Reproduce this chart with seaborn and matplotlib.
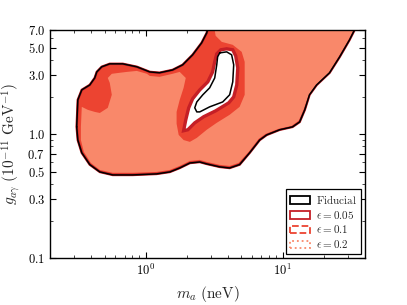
import matplotlib
matplotlib.use("Agg")
import matplotlib.pyplot as plt
import matplotlib.ticker as ticker
from matplotlib.patches import Patch
import pandas as pd
import seaborn as sns

# fiducial exclusion contour (outer edge), m_a in neV, g in 1e-11 GeV^-1
fid_outer_m = [0.313, 0.319, 0.341, 0.390, 0.424, 0.439, 0.477, 0.546, 0.679, 0.860, 1.07, 1.26,
               1.57, 1.86, 2.20, 2.56, 2.79, 2.95, 35.5, 33.5, 30.8, 26.1, 22.0, 17.7, 15.7, 14.5,
               13.3, 11.8, 9.51, 7.64, 6.79, 5.74, 4.85, 4.10, 3.47, 2.79, 2.48, 2.10, 1.77, 1.50,
               1.20, 0.804, 0.574, 0.462, 0.390, 0.341, 0.319]
fid_outer_g = [1.15, 1.90, 2.29, 2.51, 2.86, 3.20, 3.52, 3.72, 3.72, 3.52, 3.20, 3.15,
               3.32, 3.65, 4.40, 5.50, 6.62, 8.5, 8.5, 7.00, 5.82, 4.24, 3.15, 2.51, 2.09, 1.58,
               1.26, 1.15, 1.09, 0.99, 0.90, 0.71, 0.57, 0.535, 0.546, 0.577, 0.598, 0.587, 0.535, 0.497,
               0.479, 0.470, 0.470, 0.497, 0.57, 0.71, 0.90]

# fiducial contour (inner island)
fid_hole_m = [3.47, 3.90, 4.24, 4.39, 4.32, 4.10, 3.65, 2.93, 2.48, 2.36, 2.28, 2.36, 2.61, 2.93,
              3.19, 3.30, 3.35]
fid_hole_g = [4.56, 4.65, 4.40, 3.65, 2.66, 2.09, 1.83, 1.67, 1.52, 1.52, 1.64, 1.83, 2.09, 2.38,
              2.86, 3.65, 4.24]

# eps = 0.2 region
eps02_m = [0.336, 0.336, 0.341, 0.377, 0.424, 0.462, 0.528, 0.565, 0.546, 0.528, 0.565, 0.646,
           0.726, 0.860, 1.02, 1.07, 1.26, 1.57, 1.77, 1.96, 1.89, 1.77, 1.68, 1.68, 1.74, 1.89,
           2.10, 2.36, 2.79, 3.30, 4.10, 4.85, 5.28, 5.28, 5.02, 4.32, 3.59, 3.24, 3.14, 34.1,
           33.0, 30.3, 25.6, 21.7, 17.4, 15.5, 14.2, 13.1, 11.6, 9.35, 7.51, 6.68, 5.65, 4.77,
           4.10, 3.47, 2.79, 2.48, 2.10, 1.77, 1.50, 1.20, 0.804, 0.574, 0.462, 0.397, 0.353]
eps02_g = [0.90, 1.15, 1.67, 1.58, 1.52, 1.49, 1.64, 2.09, 2.61, 2.86, 3.09, 3.15,
           3.20, 3.26, 3.09, 2.97, 2.92, 3.09, 3.20, 2.86, 2.38, 1.90, 1.52, 1.22, 0.99, 0.90,
           0.870, 0.937, 1.09, 1.24, 1.44, 1.67, 2.09, 3.86, 4.65, 5.30, 5.60, 6.27, 7.69, 7.69,
           7.00, 5.82, 4.24, 3.15, 2.51, 2.09, 1.58, 1.29, 1.17, 1.11, 1.01, 0.920, 0.722, 0.588,
           0.556, 0.567, 0.599, 0.622, 0.610, 0.556, 0.516, 0.497, 0.489, 0.489, 0.516, 0.588, 0.722]

# eps = 0.05 island (allowed gap)
eps05_hole_m = [1.89, 1.96, 2.06, 2.20, 2.48, 2.84, 3.08, 3.19, 3.30, 3.53, 3.90, 4.32, 4.54,
                4.70, 4.62, 4.39, 4.04, 3.24, 2.65, 2.28, 2.03]
eps05_hole_g = [1.07, 1.31, 1.64, 1.94, 2.29, 2.66, 3.20, 3.86, 4.48, 4.83, 4.92, 4.83, 4.31,
                3.45, 2.51, 2.01, 1.80, 1.55, 1.39, 1.24, 1.09]

ytick_vals = [0.1, 0.3, 0.5, 0.7, 1.0, 3.0, 5.0, 7.0]
ytick_labels = ["0.1", "0.3", "0.5", "0.7", "1.0", "3.0", "5.0", "7.0"]
yminor_vals = [0.2, 0.4, 0.6, 0.8, 0.9, 2.0, 4.0, 6.0]

c_fid = "black"
c_05 = "#c51f26"
c_01 = "#ec4431"
c_02 = "#f9886a"

sns.set_style("ticks")
plt.rcParams.update({
    "font.family": "serif",
    "mathtext.fontset": "cm",
    "axes.edgecolor": "black",
    "xtick.direction": "in",
    "ytick.direction": "in",
    "xtick.top": True,
    "ytick.right": True,
})

fig, ax = plt.subplots(figsize=(4.07, 3.05), dpi=100)
fig.subplots_adjust(left=0.123, right=0.897, bottom=0.154, top=0.902)
ax.set_xscale("log")
ax.set_yscale("log")

ax.fill(fid_outer_m, fid_outer_g, facecolor=c_01, edgecolor=c_05, lw=1.8, zorder=1)
ax.fill(eps02_m, eps02_g, facecolor=c_02, edgecolor="none", zorder=2)
ax.fill(eps05_hole_m, eps05_hole_g, facecolor="white", edgecolor=c_05, lw=2.4, zorder=3)

outer = pd.DataFrame({"m": fid_outer_m + fid_outer_m[:1], "g": fid_outer_g + fid_outer_g[:1]})
hole = pd.DataFrame({"m": fid_hole_m + fid_hole_m[:1], "g": fid_hole_g + fid_hole_g[:1]})
for d in (outer, hole):
    sns.lineplot(data=d, x="m", y="g", sort=False, estimator=None, color=c_fid,
                 lw=1.1, ax=ax, legend=False, zorder=4)

ax.set_xlim(0.2, 40)
ax.set_ylim(0.1, 7.0)
ax.xaxis.set_major_locator(ticker.FixedLocator([1, 10]))
ax.xaxis.set_major_formatter(ticker.FixedFormatter([r"$10^{0}$", r"$10^{1}$"]))
ax.xaxis.set_minor_locator(ticker.LogLocator(base=10, subs=range(2, 10)))
ax.xaxis.set_minor_formatter(ticker.NullFormatter())
ax.yaxis.set_major_locator(ticker.FixedLocator(ytick_vals))
ax.yaxis.set_major_formatter(ticker.FixedFormatter(["$%s$" % s for s in ytick_labels]))
ax.yaxis.set_minor_locator(ticker.FixedLocator(yminor_vals))
ax.yaxis.set_minor_formatter(ticker.NullFormatter())
ax.tick_params(which="major", length=4, width=0.8, labelsize=9, colors="black")
ax.tick_params(which="minor", length=2.5, width=0.6)
for s in ax.spines.values():
    s.set_linewidth(1.0)

ax.set_xlabel(r"$m_a\ \mathrm{(neV)}$", fontsize=11)
ax.set_ylabel(r"$g_{a\gamma}\ (10^{-11}\ \mathrm{GeV}^{-1})$", fontsize=11)

handles = [
    Patch(facecolor="none", edgecolor=c_fid, lw=1.3, label=r"$\mathrm{Fiducial}$"),
    Patch(facecolor="none", edgecolor=c_05, lw=1.3, label=r"$\epsilon=0.05$"),
    Patch(facecolor="none", edgecolor=c_01, lw=1.3, ls="--", label=r"$\epsilon=0.1$"),
    Patch(facecolor="none", edgecolor=c_02, lw=1.3, ls=":", label=r"$\epsilon=0.2$"),
]
leg = ax.legend(handles=handles, loc="lower right", fontsize=8, frameon=True, fancybox=False,
                edgecolor="black", framealpha=1, borderaxespad=0.35, handlelength=1.8,
                handleheight=0.65, labelspacing=0.25, handletextpad=0.6, borderpad=0.35)
leg.get_frame().set_linewidth(0.9)

fig.savefig("out.png", dpi=100)
